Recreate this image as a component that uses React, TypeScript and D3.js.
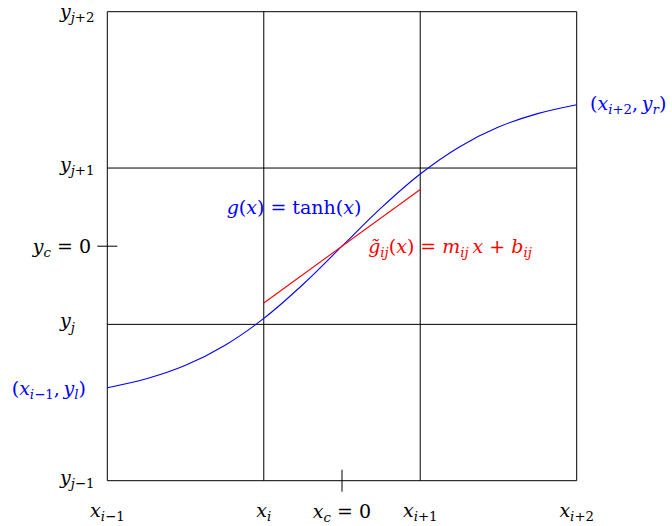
import * as d3 from 'd3';
import React from 'react';

// grid positions (in units of the cell width) and their labels
const xTicks = [-1.5, -0.5, 0.5, 1.5];
const xTickLabels = ['x_{i−1}', 'x_i', 'x_{i+1}', 'x_{i+2}'];
const yTicks = [-1.5, -0.5, 0.5, 1.5];
const yTickLabels = ['y_{j−1}', 'y_j', 'y_{j+1}', 'y_{j+2}'];

// g(x) = tanh(x)
const curveX = [-1.5, -1.25, -1, -0.75, -0.5, -0.25, 0, 0.25, 0.5, 0.75, 1, 1.25, 1.5];
const curveY = [-0.905, -0.848, -0.762, -0.635, -0.462, -0.245, 0, 0.245, 0.462, 0.635, 0.762, 0.848, 0.905];

// red linear approximation on [x_i, x_{i+1}]
const lineX = [-0.5, 0.5];
const lineY = [-0.363, 0.363];

const FONT = 'DejaVu Serif, serif';
const FS = 19;

type Seg = { t: string; it: boolean; sub: boolean };

// tiny TeX-ish parser: letters italic, the rest upright, _x / _{..} subscripts
function parseTex(src: string): Seg[] {
    const out: Seg[] = [];
    const push = (t: string, it: boolean, sub: boolean) => {
        const last = out[out.length - 1];
        if (last && last.it === it && last.sub === sub) last.t += t;
        else out.push({ t, it, sub });
    };
    const emit = (s: string, sub: boolean) => {
        let k = 0;
        while (k < s.length) {
            if (s.startsWith('\\tanh', k)) {
                push('tanh', false, sub);
                k += 5;
                continue;
            }
            const c = s[k];
            push(c, /[a-z\u0303]/i.test(c), sub);
            k++;
        }
    };
    let i = 0;
    while (i < src.length) {
        if (src[i] === '_') {
            if (src[i + 1] === '{') {
                const j = src.indexOf('}', i);
                emit(src.slice(i + 2, j), true);
                i = j + 1;
            } else {
                emit(src[i + 1], true);
                i += 2;
            }
        } else if (src.startsWith('\\tanh', i)) {
            emit('\\tanh', false);
            i += 5;
        } else {
            emit(src[i], false);
            i++;
        }
    }
    return out;
}

function TeX(props: { x: number; y: number; src: string; color?: string; anchor?: string }) {
    const segs = parseTex(props.src);
    const shift = FS * 0.22;
    let inSub = false;
    return (
        <text
            x={props.x}
            y={props.y}
            fill={props.color || '#000'}
            textAnchor={props.anchor || 'start'}
            style={{ whiteSpace: 'pre', fontFamily: FONT, fontSize: FS }}
        >
            {segs.map((s, k) => {
                let dy = 0;
                if (s.sub && !inSub) dy = shift;
                if (!s.sub && inSub) dy = -shift;
                inSub = s.sub;
                return (
                    <tspan
                        key={k}
                        dy={dy || undefined}
                        style={{ fontStyle: s.it ? 'italic' : 'normal', fontSize: s.sub ? FS * 0.7 : FS }}
                    >
                        {s.t}
                    </tspan>
                );
            })}
        </text>
    );
}

export default function App() {
    const width = 672;
    const height = 526;

    const x = d3.scaleLinear().domain([-1.5, 1.5]).range([107.3, 576.7]);
    const y = d3.scaleLinear().domain([-1.5, 1.5]).range([480.7, 11.7]);

    const curvePts = curveX.map((v, i) => [v, curveY[i]] as [number, number]);
    const curve = d3.line<[number, number]>()
        .x(d => x(d[0]))
        .y(d => y(d[1]))
        .curve(d3.curveCatmullRom.alpha(0.5));

    const linePts = lineX.map((v, i) => [v, lineY[i]] as [number, number]);
    const straight = d3.line<[number, number]>().x(d => x(d[0])).y(d => y(d[1]));

    const [x0, x1] = x.domain();
    const [y0, y1] = y.domain();

    return (
        <svg width={width} height={height} style={{ position: 'absolute', left: 0, top: 0 }}>
            <rect width={width} height={height} fill="#fff" />

            {/* grid */}
            {xTicks.map(v => (
                <line key={'vx' + v} x1={x(v)} x2={x(v)} y1={y(y0)} y2={y(y1)} stroke="#000" strokeWidth={1} />
            ))}
            {yTicks.map(v => (
                <line key={'hy' + v} x1={x(x0)} x2={x(x1)} y1={y(v)} y2={y(v)} stroke="#000" strokeWidth={1} />
            ))}

            {/* centre ticks */}
            <line x1={x(0)} x2={x(0)} y1={y(y0) - 11} y2={y(y0) + 11} stroke="#000" strokeWidth={1} />
            <line x1={x(x0) - 10} x2={x(x0) + 10} y1={y(0)} y2={y(0)} stroke="#000" strokeWidth={1} />

            {/* curves */}
            <path d={curve(curvePts) || ''} fill="none" stroke="#0000ff" strokeWidth={1.1} />
            <path d={straight(linePts) || ''} fill="none" stroke="#ff0000" strokeWidth={1.1} />

            {/* tick labels */}
            {xTicks.map((v, i) => (
                <TeX key={'xl' + v} x={x(v)} y={517} src={xTickLabels[i]} anchor="middle" />
            ))}
            {yTicks.map((v, i) => (
                <TeX key={'yl' + v} x={60} y={y(v) + (i === 3 ? 6 : 3)} src={yTickLabels[i]} />
            ))}
            <TeX x={x(0)} y={518} src="x_c = 0" anchor="middle" />
            <TeX x={91} y={y(0) + 7} src="y_c = 0" anchor="end" />

            {/* annotations */}
            <TeX x={294} y={214} src="g(x) = \tanh(x)" color="#0000ff" anchor="middle" />
            <TeX x={450} y={253} src={'g\u0303_{ij}(x) = m_{ij}\u2009x + b_{ij}'} color="#ff0000" anchor="middle" />
            <TeX x={590} y={110} src={'(x_{i+2},\u2009y_r)'} color="#0000ff" />
            <TeX x={86} y={395} src={'(x_{i−1},\u2009y_l)'} color="#0000ff" anchor="end" />
        </svg>
    );
}
